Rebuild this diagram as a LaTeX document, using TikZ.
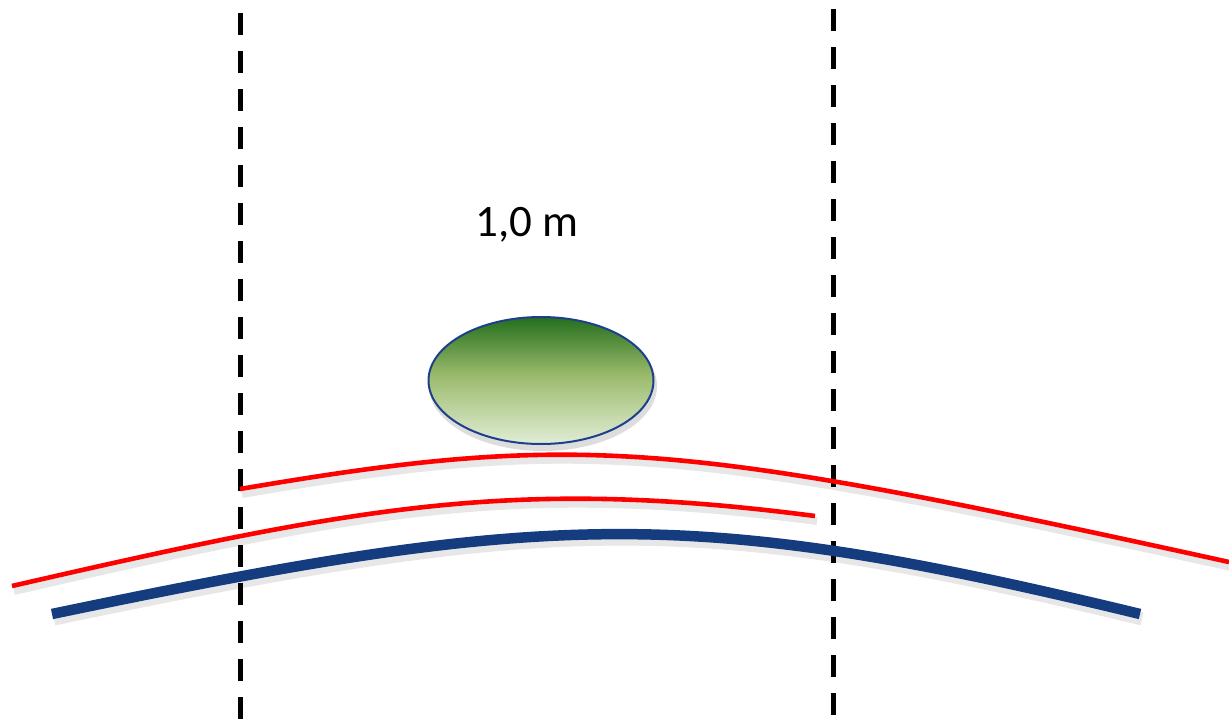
\documentclass[tikz,border=0pt]{standalone}
\usepackage{fontspec}
\setmainfont{Carlito}
\definecolor{dgreen}{RGB}{36,110,30}
\definecolor{mgreen}{RGB}{155,187,108}
\definecolor{lgreen}{RGB}{224,237,214}
\definecolor{rimblue}{RGB}{30,64,140}
\definecolor{roadblue}{RGB}{22,60,128}
\definecolor{shadowgray}{RGB}{120,120,120}
\pgfdeclareverticalshading{leafshade}{100bp}{color(0bp)=(lgreen); color(25bp)=(lgreen); color(52bp)=(mgreen); color(75bp)=(dgreen); color(100bp)=(dgreen)}
\tikzset{
  guide/.style={line width=5pt, dash pattern=on 22pt off 16pt, black},
  redline/.style={line width=4.6pt, red},
  blueline/.style={line width=10.5pt, roadblue},
  softshadow/.style={line width=#1, shadowgray, opacity=0.18},
  label/.style={font=\fontsize{45}{50}\selectfont, anchor=base, inner sep=0pt}
}
\newcommand{\curveA}{(240,489) .. controls (580,431) and (679,441) .. (1229,562)}
\newcommand{\curveB}{(12,586) .. controls (362,505.5) and (515,477) .. (815,516)}
\newcommand{\curveC}{(52,614) .. controls (550,510) and (690,505) .. (1140,614)}
\begin{document}
\begin{tikzpicture}[x=1pt,y=-1pt]
\useasboundingbox (0,0) rectangle (1229,723);
% shadows
\begin{scope}[shift={(2,5)}]
  \fill[shadowgray, opacity=0.25] (541,381) ellipse [x radius=114, y radius=65];
  \draw[softshadow=8pt] \curveA;
  \draw[softshadow=8pt] \curveB;
  \draw[softshadow=13pt] \curveC;
\end{scope}
% dashed guides
\coordinate (gl1) at (240,13);
\coordinate (gl2) at (240,723);
\coordinate (gr1) at (833,9);
\coordinate (gr2) at (833,723);
\draw[guide] (gl1) -- (gl2);
\draw[guide] (gr1) -- (gr2);
% label
\node[label] (lbl) at (527,236) {1,0 m};
% ellipse
\shade[shading=leafshade] (541,380.5) ellipse [x radius=112.5, y radius=63.5];
\draw[rimblue, line width=2pt] (541,380.5) ellipse [x radius=112.5, y radius=63.5];
% curves
\draw[redline] \curveA;
\draw[redline] \curveB;
\draw[blueline] \curveC;
\end{tikzpicture}
\end{document}
